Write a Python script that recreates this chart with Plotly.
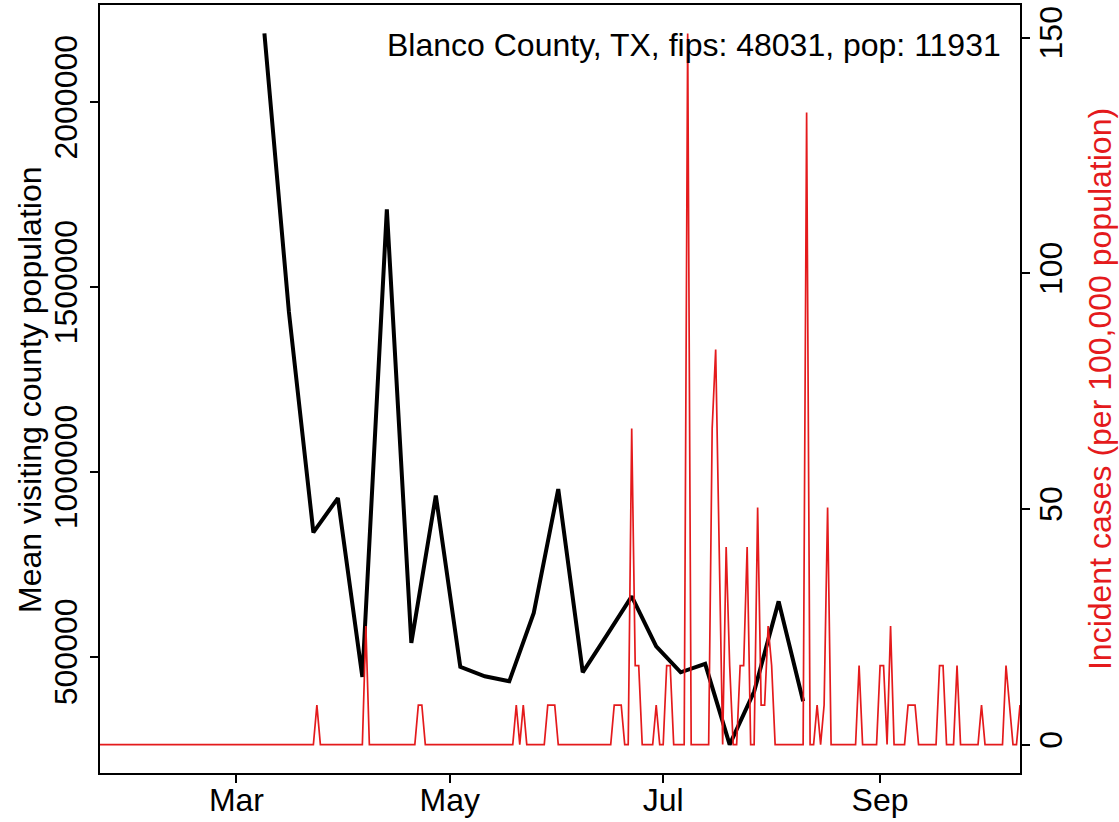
import pandas as pd
import plotly.graph_objects as go

# ---------------- data ----------------
county_label = "Blanco County, TX, fips: 48031, pop: 11931"
population = 11931

# weekly mean visiting county population (Mondays from 2020-03-09)
visit_dates = pd.date_range("2020-03-09", periods=23, freq="7D")
visits = [2185650, 1432430, 835950, 928920, 445140, 1710000, 537030, 935950,
          472160, 446760, 433240, 618110, 953240, 457570, 559460, 662970,
          527840, 457570, 480270, 262160, 405410, 649460, 379190]

# daily new cases, 2020-01-22 .. 2020-10-11
cases_jan = [0, 0, 0, 0, 0, 0, 0, 0, 0, 0]
cases_feb = [0, 0, 0, 0, 0, 0, 0, 0, 0, 0, 0, 0, 0, 0, 0, 0, 0, 0, 0, 0,
             0, 0, 0, 0, 0, 0, 0, 0, 0]
cases_mar = [0, 0, 0, 0, 0, 0, 0, 0, 0, 0, 0, 0, 0, 0, 0, 0, 0, 0, 0, 0,
             0, 0, 0, 1, 0, 0, 0, 0, 0, 0, 0]
cases_apr = [0, 0, 0, 0, 0, 0, 3, 0, 0, 0, 0, 0, 0, 0, 0, 0, 0, 0, 0, 0,
             0, 1, 1, 0, 0, 0, 0, 0, 0, 0]
cases_may = [0, 0, 0, 0, 0, 0, 0, 0, 0, 0, 0, 0, 0, 0, 0, 0, 0, 0, 0, 1,
             0, 1, 0, 0, 0, 0, 0, 0, 1, 1, 1]
cases_jun = [0, 0, 0, 0, 0, 0, 0, 0, 0, 0, 0, 0, 0, 0, 0, 0, 1, 1, 1, 0,
             0, 8, 2, 2, 0, 0, 0, 0, 1, 0]
cases_jul = [0, 2, 2, 0, 0, 0, 0, 18, 0, 0, 0, 0, 0, 0, 8, 10, 5, 0, 5, 2,
             0, 0, 2, 2, 5, 0, 0, 6, 1, 1, 3]
cases_aug = [2, 0, 0, 0, 0, 0, 0, 0, 0, 0, 16, 0, 0, 1, 0, 1, 6, 0, 0, 0,
             0, 0, 0, 0, 0, 2, 0, 0, 0, 0, 0]
cases_sep = [2, 2, 0, 3, 0, 0, 0, 0, 1, 1, 1, 0, 0, 0, 0, 0, 0, 2, 2, 0,
             0, 0, 2, 0, 0, 0, 0, 0, 0, 1]
cases_oct = [0, 0, 0, 0, 0, 0, 2, 1, 0, 0, 1]

x_tick_vals = ["2020-03-01", "2020-05-01", "2020-07-01", "2020-09-01"]
x_tick_text = ["Mar", "May", "Jul", "Sep"]
left_tick_vals = [500000, 1000000, 1500000, 2000000]
right_tick_vals = [0, 50, 100, 150]

# ---------------- derived ----------------
daily_cases = (cases_jan + cases_feb + cases_mar + cases_apr + cases_may +
               cases_jun + cases_jul + cases_aug + cases_sep + cases_oct)
case_dates = pd.date_range("2020-01-22", periods=len(daily_cases), freq="D")
incidence = [c * 100000 / population for c in daily_cases]

lo, hi = min(visits), max(visits)
pad = 0.04 * (hi - lo)
left_range = [lo - pad, hi + pad]
rlo, rhi = min(incidence), max(incidence)
rpad = 0.04 * (rhi - rlo)
right_range = [rlo - rpad, rhi + rpad]

FONT = "Liberation Sans, Arial, Helvetica, sans-serif"
FS = 32
RED = "#e41a1c"

fig = go.Figure()
fig.add_trace(go.Scatter(x=visit_dates, y=visits, mode="lines",
                         line=dict(color="black", width=4), yaxis="y",
                         showlegend=False))
fig.add_trace(go.Scatter(x=case_dates, y=incidence, mode="lines",
                         line=dict(color=RED, width=1.7), yaxis="y2",
                         showlegend=False))

axis_common = dict(showline=True, linecolor="black", linewidth=1.5,
                   ticks="outside", ticklen=8, tickwidth=1.5, tickcolor="black",
                   showgrid=False, zeroline=False,
                   tickfont=dict(family=FONT, size=FS, color="black"))

fig.update_layout(
    width=1119, height=822,
    margin=dict(l=100, r=99, t=5, b=49, autoexpand=False),
    paper_bgcolor="white", plot_bgcolor="white",
    font=dict(family=FONT, size=FS, color="black"),
    xaxis=dict(type="date", range=["2020-01-22", "2020-10-11"],
               tickvals=x_tick_vals, ticktext=x_tick_text, mirror=True,
               ticklabelstandoff=-10, **axis_common),
    yaxis=dict(range=left_range, tickvals=left_tick_vals,
               ticktext=[str(v) for v in left_tick_vals], tickangle=-90,
               mirror=True, **axis_common),
    yaxis2=dict(range=right_range, tickvals=right_tick_vals,
                ticktext=[str(v) for v in right_tick_vals], tickangle=-90,
                overlaying="y", side="right", ticklabelstandoff=-6,
                **axis_common),
    annotations=[
        dict(text="Mean visiting county population", xref="paper", yref="paper",
             x=-0.0761, y=0.5, xanchor="center", yanchor="middle",
             textangle=-90, showarrow=False,
             font=dict(family=FONT, size=FS, color="black")),
        dict(text="Incident cases (per 100,000 population)", xref="paper",
             yref="paper", x=1.087, y=0.5, xanchor="center", yanchor="middle",
             textangle=-90, showarrow=False,
             font=dict(family=FONT, size=FS, color=RED)),
        dict(text=county_label, xref="paper", yref="paper", x=0.9815, y=0.948,
             xanchor="right", yanchor="middle", showarrow=False,
             font=dict(family=FONT, size=FS, color="black")),
    ],
)

fig.write_html("out.html", config={"displayModeBar": False},
               post_script="document.body.style.margin='0';"
                           "document.body.style.overflow='hidden';")
